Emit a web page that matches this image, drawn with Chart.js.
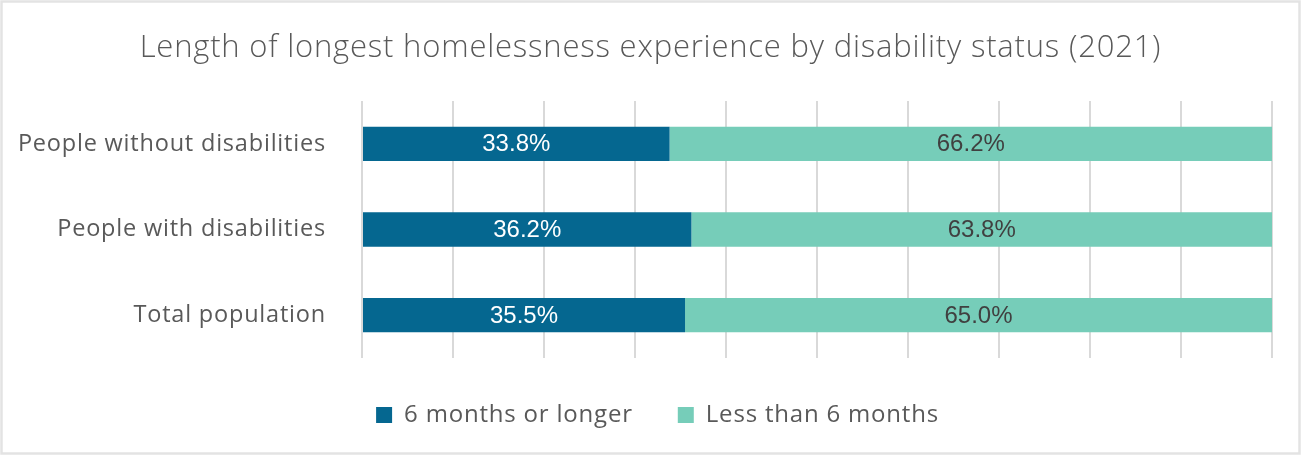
<!DOCTYPE html>
<html>
<head>
<meta charset="utf-8">
<script src="https://cdn.jsdelivr.net/npm/chart.js@4.4.1/dist/chart.umd.min.js"></script>
<style>
  html, body { margin: 0; padding: 0; background: #ffffff; }
  #wrap { position: relative; width: 1301px; height: 455px; }
</style>
</head>
<body>
<div id="wrap"><canvas id="chart" width="1301" height="455"></canvas></div>
<script>
// Categories (top to bottom) and the two duration shares, in percent
const categories = ['People without disabilities', 'People with disabilities', 'Total population'];
const sixMonthsOrLonger = [33.8, 36.2, 35.5];
const lessThanSixMonths = [66.2, 63.8, 65.0];
const seriesNames = ['6 months or longer', 'Less than 6 months'];
const axisTicks = [0, 10, 20, 30, 40, 50, 60, 70, 80, 90, 100];

const TEXT_FONT = "'Open Sans', 'Noto Sans', sans-serif";
const LABEL_FONT = "'Liberation Sans', Arial, sans-serif";
const TEXT_SPACING = '0.8px';

// Slightly opened lettering for title, category names and legend
const spacingPlugin = {
  id: 'spacing',
  beforeLayout(chart) { chart.ctx.letterSpacing = TEXT_SPACING; },
  beforeDraw(chart) { chart.ctx.letterSpacing = TEXT_SPACING; }
};

// Title centred on the full panel, legend nudged a little to the right
const centringPlugin = {
  id: 'centring',
  afterLayout(chart) {
    if (chart.titleBlock) { chart.titleBlock.left = 0; chart.titleBlock.right = chart.width; }
    if (chart.legend) { chart.legend.left = 14; chart.legend.right = chart.width; }
  }
};

// White panel with a thin light frame around the whole chart
const framePlugin = {
  id: 'frame',
  beforeDraw(chart) {
    const { ctx, width, height } = chart;
    ctx.save();
    ctx.fillStyle = '#ffffff';
    ctx.fillRect(0, 0, width, height);
    ctx.strokeStyle = '#e3e3e3';
    ctx.lineWidth = 2.5;
    ctx.strokeRect(1.5, 1.5, width - 3, height - 3);
    ctx.restore();
  }
};

// Percent value written in the middle of each visible bar segment
const valueLabelPlugin = {
  id: 'valueLabels',
  afterDatasetsDraw(chart) {
    const { ctx, chartArea } = chart;
    ctx.save();
    ctx.letterSpacing = '0px';
    ctx.font = '400 24px ' + LABEL_FONT;
    ctx.textAlign = 'center';
    ctx.textBaseline = 'middle';
    chart.data.datasets.forEach((ds, di) => {
      chart.getDatasetMeta(di).data.forEach((bar, i) => {
        const p = bar.getProps(['x', 'y', 'base'], true);
        const left = Math.max(Math.min(p.x, p.base), chartArea.left);
        const right = Math.min(Math.max(p.x, p.base), chartArea.right);
        ctx.fillStyle = ds.labelColor;
        ctx.fillText(ds.data[i].toFixed(1) + '%', (left + right) / 2, p.y + 1);
      });
    });
    ctx.restore();
  }
};

new Chart(document.getElementById('chart'), {
  type: 'bar',
  data: {
    labels: categories,
    datasets: [
      { label: seriesNames[0], data: sixMonthsOrLonger, backgroundColor: '#056790', labelColor: '#ffffff',
        barPercentage: 0.4, categoryPercentage: 1.0 },
      { label: seriesNames[1], data: lessThanSixMonths, backgroundColor: '#76cdb9', labelColor: '#404040',
        barPercentage: 0.4, categoryPercentage: 1.0 }
    ]
  },
  plugins: [spacingPlugin, centringPlugin, framePlugin, valueLabelPlugin],
  options: {
    indexAxis: 'y',
    responsive: false,
    animation: false,
    layout: { padding: { left: 0, right: 29, top: 0, bottom: 18 } },
    scales: {
      x: {
        stacked: true,
        min: 0,
        max: 100,
        afterBuildTicks(scale) { scale.ticks = axisTicks.map(v => ({ value: v })); },
        afterFit(scale) { scale.height = 0; },
        ticks: { display: false },
        border: { display: false },
        grid: { color: '#d9d9d9', lineWidth: 2, drawTicks: false }
      },
      y: {
        stacked: true,
        afterFit(scale) { scale.width = 362; },
        ticks: {
          color: '#595959',
          padding: 28,
          font: { family: TEXT_FONT, size: 23.5, weight: '400' }
        },
        border: { display: false },
        grid: { display: false }
      }
    },
    plugins: {
      title: {
        display: true,
        text: 'Length of longest homelessness experience by disability status (2021)',
        color: '#595959',
        font: { family: TEXT_FONT, size: 31, weight: '300' },
        padding: { top: 30, bottom: 33.8 }
      },
      legend: {
        position: 'bottom',
        labels: {
          color: '#595959',
          boxWidth: 16,
          boxHeight: 16,
          padding: 45,
          font: { family: TEXT_FONT, size: 24, weight: '400' }
        }
      },
      tooltip: { enabled: false }
    }
  }
});
</script>
</body>
</html>
